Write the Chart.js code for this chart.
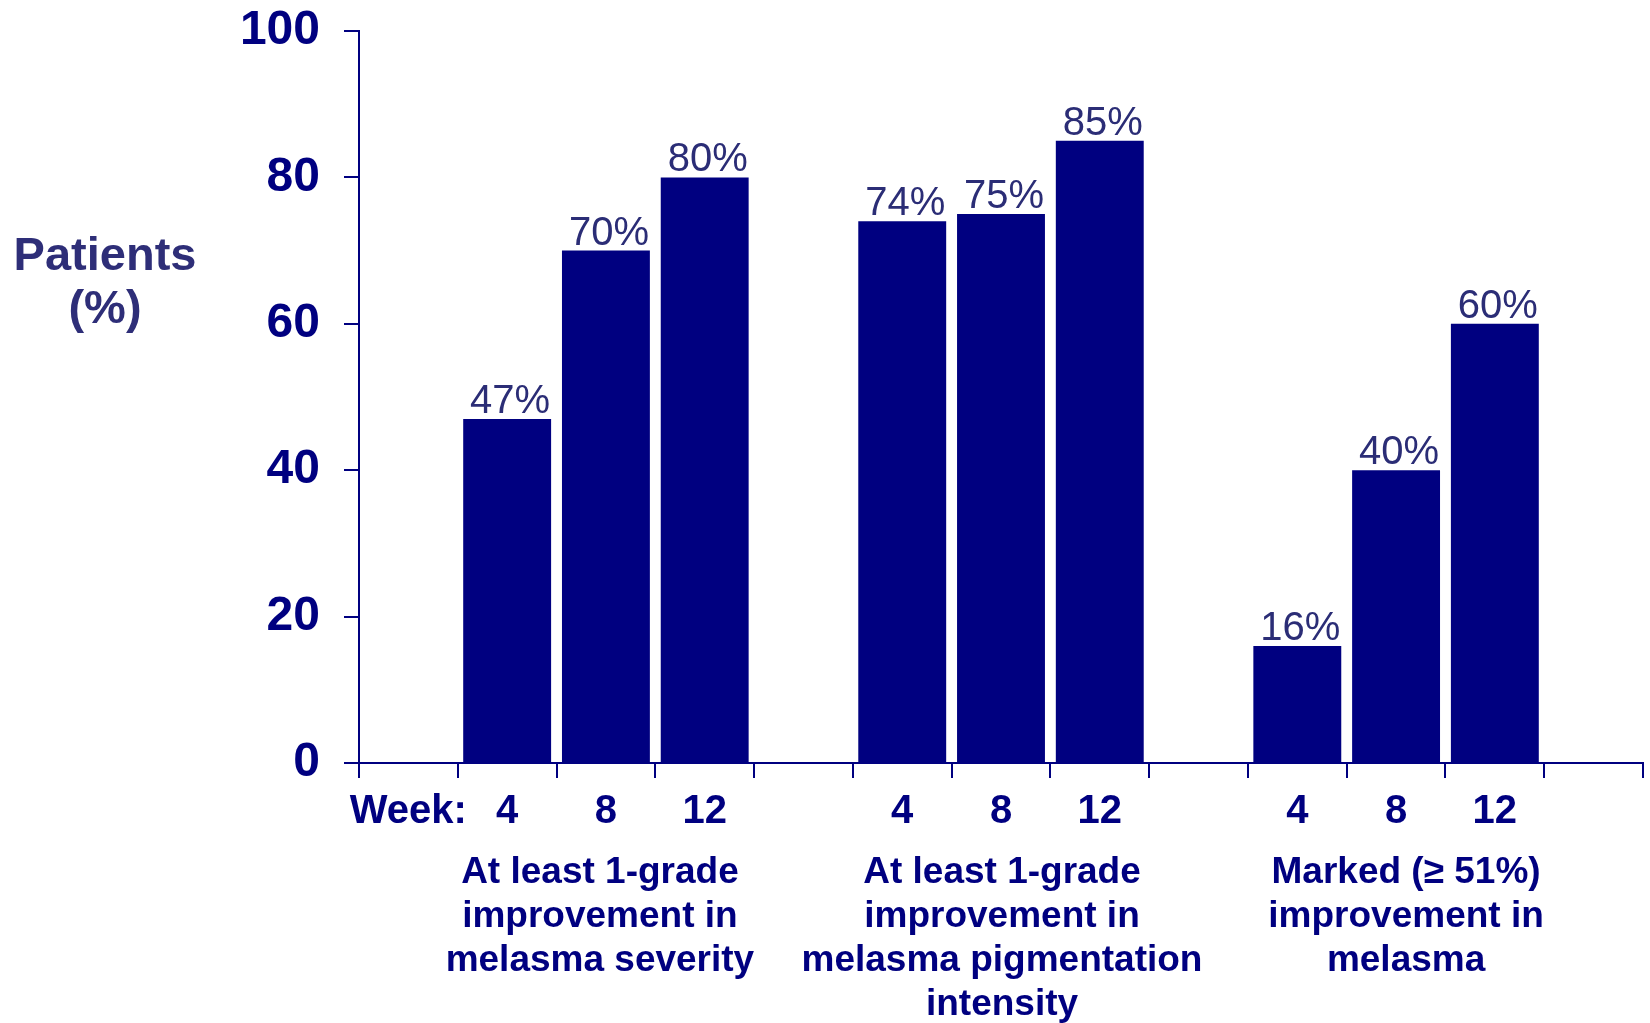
<!DOCTYPE html>
<html>
<head>
<meta charset="utf-8">
<script src="https://cdn.jsdelivr.net/npm/chart.js@4"></script>
<style>
  html, body { margin: 0; padding: 0; background: #ffffff; }
  #wrap { width: 1650px; height: 1023px; }
</style>
</head>
<body>
<div id="wrap"><canvas id="c" width="1650" height="1023"></canvas></div>
<script>
// ---- data ----
const weekLabels = ['4', '8', '12'];
const severity = [47, 70, 80];
const pigmentation = [74, 75, 85];
const marked = [16, 40, 60];
const groupTitles = [
  ['At least 1-grade', 'improvement in', 'melasma severity'],
  ['At least 1-grade', 'improvement in', 'melasma pigmentation', 'intensity'],
  ['Marked (\u2265 51%)', 'improvement in', 'melasma']
];
const yTicks = [0, 20, 40, 60, 80, 100];
const yTitle = ['Patients', '(%)'];
const weekTitle = 'Week:';

// ---- build category table (blank spacer slots between groups) ----
const categories = [weekTitle, ...weekLabels, '', ...weekLabels, '', ...weekLabels, ''];
const values = [null, ...severity, null, ...pigmentation, null, ...marked, null];
const groupCenterIndex = [2, 6, 10];
const groupShift = [-6, 1, 10];

const NAVY = '#000080';
const LABEL = '#2b2d76';
const FONT = '"Liberation Sans", Arial, Helvetica, sans-serif';

const overlay = {
  id: 'overlay',
  afterDatasetsDraw(chart) {
    const ctx = chart.ctx;
    const meta = chart.getDatasetMeta(0);
    ctx.save();
    // value labels
    ctx.fillStyle = LABEL;
    ctx.font = '40px ' + FONT;
    ctx.textAlign = 'center';
    ctx.textBaseline = 'alphabetic';
    meta.data.forEach((bar, i) => {
      const v = values[i];
      if (v === null || v === undefined) return;
      ctx.fillText(v + '%', bar.x + 3, bar.y - 6);
    });
    // group titles
    const xs = chart.scales.x;
    ctx.fillStyle = NAVY;
    ctx.font = 'bold 37px ' + FONT;
    ctx.textBaseline = 'middle';
    groupTitles.forEach((lines, g) => {
      const cx = xs.getPixelForValue(groupCenterIndex[g]) + groupShift[g];
      lines.forEach((t, k) => {
        ctx.fillText(t, cx, 873 + k * 44);
      });
    });
    // y title
    ctx.fillStyle = '#2e2e78';
    ctx.font = 'bold 47px ' + FONT;
    ctx.textBaseline = 'alphabetic';
    ctx.fillText(yTitle[0], 105, 270);
    ctx.fillText(yTitle[1], 105, 323);
    ctx.restore();
  }
};

new Chart(document.getElementById('c'), {
  type: 'bar',
  data: {
    labels: categories,
    datasets: [{
      data: values,
      backgroundColor: NAVY,
      borderWidth: 0,
      barPercentage: 0.89,
      categoryPercentage: 1.0
    }]
  },
  options: {
    responsive: false,
    animation: false,
    devicePixelRatio: 1,
    layout: { autoPadding: false, padding: { top: 31, right: 7, bottom: 0, left: 0 } },
    plugins: { legend: { display: false }, tooltip: { enabled: false } },
    scales: {
      x: {
        offset: true,
        grid: { offset: true, drawOnChartArea: false, drawTicks: true, tickLength: 15, color: NAVY, lineWidth: 2 },
        border: { display: true, color: NAVY, width: 2 },
        ticks: {
          color: NAVY,
          font: { family: FONT, size: 40, weight: 'bold' },
          padding: 10,
          maxRotation: 0,
          autoSkip: false
        },
        afterFit(s) { s.height = 260; s.paddingLeft = 0; s.paddingRight = 0; }
      },
      y: {
        min: 0,
        max: 100,
        afterBuildTicks(s) { s.ticks = yTicks.map(v => ({ value: v })); },
        grid: { drawOnChartArea: false, drawTicks: true, tickLength: 15, color: NAVY, lineWidth: 2 },
        border: { display: true, color: NAVY, width: 2 },
        ticks: {
          color: NAVY,
          font: { family: FONT, size: 48, weight: 'bold' },
          padding: 24
        },
        afterFit(s) { s.width = 359; s.paddingTop = 0; s.paddingBottom = 0; }
      }
    }
  },
  plugins: [overlay]
});
</script>
</body>
</html>
